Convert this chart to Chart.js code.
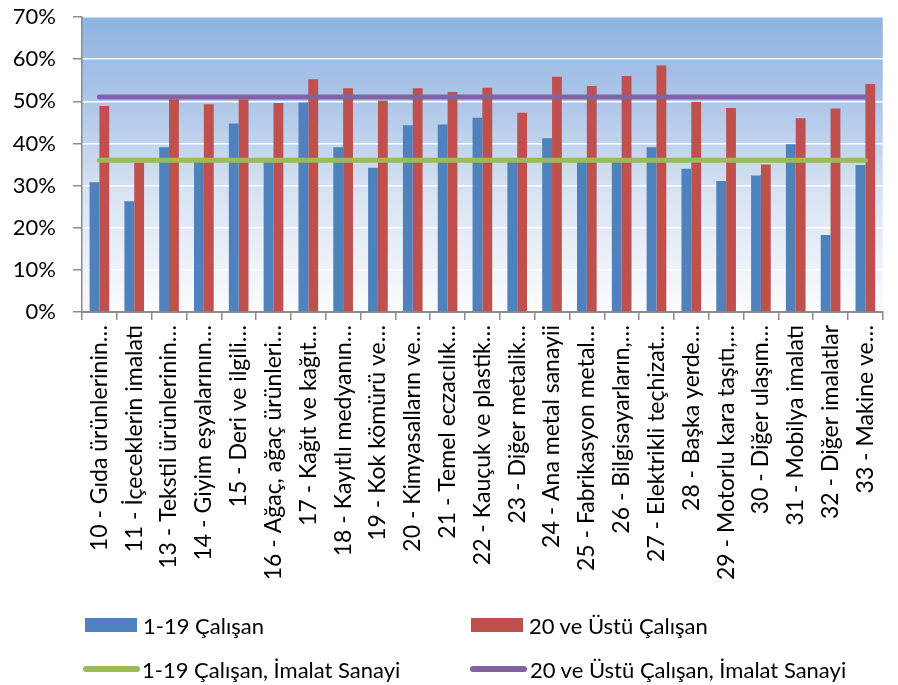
<!DOCTYPE html>
<html>
<head>
<meta charset="utf-8">
<script src="https://cdn.jsdelivr.net/npm/chart.js@4/dist/chart.umd.min.js"></script>
<style>
  html, body { margin: 0; padding: 0; background: #fff; }
  #wrap { position: relative; width: 898px; height: 685px; overflow: hidden; }
  #c { position: absolute; left: 0; top: 0; }
  .lg { position: absolute; height: 28px; display: flex; align-items: center; font-family: Lato, "Open Sans", sans-serif; font-size: 22px; color: #000; white-space: nowrap; }
  .sw { display: inline-block; flex: none; }
  .tx { display: inline-block; }
</style>
</head>
<body>
<div id="wrap">
  <canvas id="c" width="898" height="685"></canvas>
  <div id="legend"></div>
</div>
<script>
const categories = [
  "10 - Gıda ürünlerinin…",
  "11 - İçeceklerin imalatı",
  "13 - Tekstil ürünlerinin…",
  "14 - Giyim eşyalarının…",
  "15 - Deri ve ilgili…",
  "16 - Ağaç, ağaç ürünleri…",
  "17 - Kağıt ve kağıt…",
  "18 - Kayıtlı medyanın…",
  "19 - Kok kömürü ve…",
  "20 - Kimyasalların ve…",
  "21 - Temel eczacılık…",
  "22 - Kauçuk ve plastik…",
  "23 - Diğer metalik…",
  "24 - Ana metal sanayii",
  "25 - Fabrikasyon metal…",
  "26 - Bilgisayarların,…",
  "27 - Elektrikli teçhizat…",
  "28 - Başka yerde…",
  "29 - Motorlu kara taşıtı,…",
  "30 - Diğer ulaşım…",
  "31 - Mobilya imalatı",
  "32 - Diğer imalatlar",
  "33 - Makine ve…"
];
const emp1to19 = [30.8, 26.3, 39.1, 35.8, 44.7, 35.8, 49.7, 39.1, 34.2, 44.3, 44.5, 46.1, 35.8, 41.2, 35.8, 35.8, 39.1, 34.0, 31.1, 32.4, 39.8, 18.3, 34.9];
const emp20plus = [48.9, 35.4, 50.5, 49.3, 50.5, 49.6, 55.2, 53.1, 50.1, 53.1, 52.2, 53.2, 47.3, 55.8, 53.6, 56.0, 58.5, 49.9, 48.4, 35.0, 46.0, 48.3, 54.1];
const mfg1to19 = [36, 36, 36, 36, 36, 36, 36, 36, 36, 36, 36, 36, 36, 36, 36, 36, 36, 36, 36, 36, 36, 36, 36];
const mfg20plus = [51, 51, 51, 51, 51, 51, 51, 51, 51, 51, 51, 51, 51, 51, 51, 51, 51, 51, 51, 51, 51, 51, 51];
const yTicks = [0, 10, 20, 30, 40, 50, 60, 70];
const seriesNames = ["1-19 Çalışan", "20 ve Üstü Çalışan", "1-19 Çalışan, İmalat Sanayi", "20 ve Üstü Çalışan, İmalat Sanayi"];

const COLORS = { blue: "#4F81BD", red: "#C0504D", green: "#9BBB59", purple: "#8064A2" };

const bgPlugin = {
  id: "bgGradient",
  beforeDraw(chart) {
    const { ctx, chartArea: a } = chart;
    if (!a) return;
    const g = ctx.createLinearGradient(0, a.top, 0, a.bottom);
    g.addColorStop(0, "#8DB3E2");
    g.addColorStop(0.3, "#AFC7E9");
    g.addColorStop(0.6, "#D8E3F3");
    g.addColorStop(1, "#FBFCFE");
    ctx.save();
    ctx.fillStyle = g;
    ctx.fillRect(a.left, a.top, a.right - a.left, a.bottom - a.top);
    ctx.restore();
  }
};

const yFont = { family: "Lato, 'Open Sans', sans-serif", size: 22 };
const xFont = { family: "Lato, 'Open Sans', sans-serif", size: 23 };

const chart = new Chart(document.getElementById("c"), {
  type: "bar",
  data: {
    labels: categories,
    datasets: [
      { type: "line", label: seriesNames[2], data: mfg1to19, borderColor: COLORS.green, backgroundColor: COLORS.green, borderWidth: 5, borderCapStyle: "round", pointRadius: 0, order: 0 },
      { type: "line", label: seriesNames[3], data: mfg20plus, borderColor: COLORS.purple, backgroundColor: COLORS.purple, borderWidth: 5, borderCapStyle: "round", pointRadius: 0, order: 0 },
      { type: "bar", label: seriesNames[0], data: emp1to19, backgroundColor: COLORS.blue, borderWidth: 0, order: 1, categoryPercentage: 0.565, barPercentage: 1.0 },
      { type: "bar", label: seriesNames[1], data: emp20plus, backgroundColor: COLORS.red, borderWidth: 0, order: 1, categoryPercentage: 0.565, barPercentage: 1.0 }
    ]
  },
  options: {
    responsive: false,
    animation: false,
    layout: { padding: { top: 17, right: 1, left: 0, bottom: 0 } },
    plugins: { legend: { display: false }, tooltip: { enabled: false } },
    scales: {
      x: {
        offset: true,
        grid: { offset: true, drawOnChartArea: false, drawTicks: true, tickLength: 8, color: "#8C8C8C", lineWidth: 1.5 },
        border: { color: "#8C8C8C", width: 2 },
        ticks: { autoSkip: false, maxRotation: 90, minRotation: 90, padding: 5, color: "#000", font: xFont },
        afterFit(scale) { scale.height = 373; }
      },
      y: {
        min: 0, max: 70,
        afterBuildTicks(scale) { scale.ticks = yTicks.map(v => ({ value: v })); },
        grid: { color: "#FFFFFF", lineWidth: 1.5, tickColor: "#8C8C8C", tickLength: 9, drawTicks: true },
        border: { color: "#8C8C8C", width: 1.5 },
        ticks: { padding: 17, color: "#000", font: yFont, callback: v => v + "%" },
        afterFit(scale) { scale.width = 82; scale.paddingTop = 0; scale.paddingBottom = 0; }
      }
    }
  },
  plugins: [bgPlugin]
});

// HTML legend built from chart datasets
const legendPos = [
  { left: 85, top: 611, gap: 6 },
  { left: 471, top: 611, gap: 6 },
  { left: 83, top: 655, gap: 2 },
  { left: 470, top: 655, gap: 3 }
];
const lg = document.getElementById("legend");
seriesNames.forEach((name, i) => {
  const ds = chart.data.datasets.find(d => d.label === name);
  const item = document.createElement("div");
  item.className = "lg";
  item.style.left = legendPos[i].left + "px";
  item.style.top = legendPos[i].top + "px";
  const sw = document.createElement("span");
  sw.className = "sw";
  if (ds.type === "line") {
    sw.style.width = "57px"; sw.style.height = "6px"; sw.style.borderRadius = "3px";
    sw.style.background = ds.borderColor;
  } else {
    sw.style.width = "52px"; sw.style.height = "14px";
    sw.style.background = ds.backgroundColor;
  }
  const tx = document.createElement("span");
  tx.className = "tx";
  tx.style.marginLeft = legendPos[i].gap + "px";
  tx.textContent = name;
  item.appendChild(sw);
  item.appendChild(tx);
  lg.appendChild(item);
});
</script>
</body>
</html>
